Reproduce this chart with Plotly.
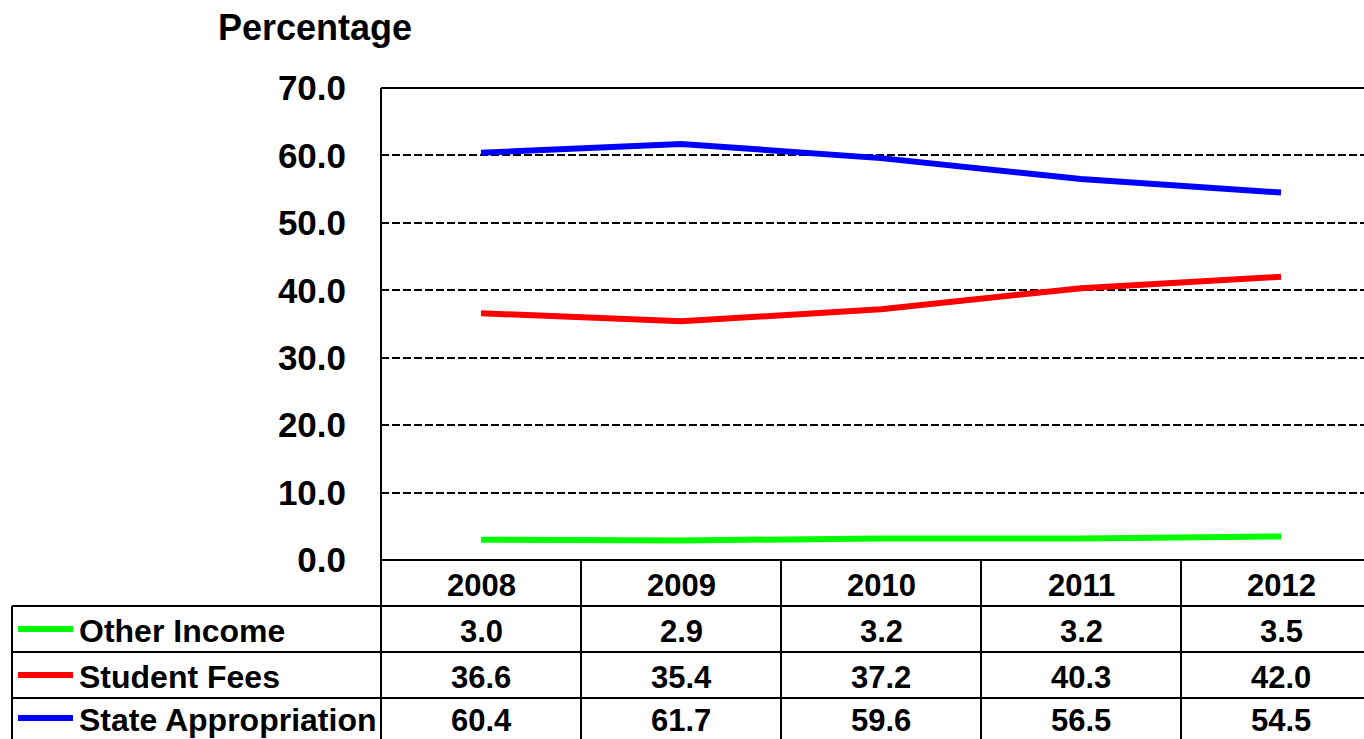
import plotly.graph_objects as go

# Revenue share by source, fiscal years 2008-2012 (percent)
years = ["2008", "2009", "2010", "2011", "2012"]
other_income = [3.0, 2.9, 3.2, 3.2, 3.5]
student_fees = [36.6, 35.4, 37.2, 40.3, 42.0]
state_appropriation = [60.4, 61.7, 59.6, 56.5, 54.5]

series = [
    ("Other Income", other_income, "#00FF00"),
    ("Student Fees", student_fees, "#FF0000"),
    ("State Appropriation", state_appropriation, "#0000FF"),
]

y_ticks = [0, 10, 20, 30, 40, 50, 60, 70]
y_tick_text = [f"{v:.1f}" for v in y_ticks]

W, H = 1364, 739
L, T, B = 381, 88, 560          # plot-area edges in pixels
PW, PH = W - L, B - T
COL_W = 200                      # pixel width of one year column

FONT = "Liberation Sans, Arial, sans-serif"


def px_x(p):
    return (p - L) / PW


def px_y(p):
    return (B - p) / PH


x_idx = list(range(len(years)))

fig = go.Figure()
for name, vals, color in series:
    fig.add_trace(go.Scatter(
        x=x_idx, y=vals, mode="lines", name=name,
        line=dict(color=color, width=6), showlegend=False,
    ))

shapes = []
line_style = dict(color="black", width=2)

# plot frame: left, top, bottom (axis line)
shapes.append(dict(type="line", xref="paper", yref="paper",
                   x0=0, x1=0, y0=1, y1=px_y(H + 2), line=line_style))
shapes.append(dict(type="line", xref="paper", yref="paper",
                   x0=0, x1=1, y0=1, y1=1, line=line_style))
shapes.append(dict(type="line", xref="paper", yref="paper",
                   x0=0, x1=1, y0=0, y1=0, line=line_style))

# data table grid below the plot
row_edges = [606, 652, 698]
for r in row_edges:
    shapes.append(dict(type="line", xref="paper", yref="paper",
                       x0=px_x(12), x1=1, y0=px_y(r), y1=px_y(r),
                       line=line_style))
shapes.append(dict(type="line", xref="paper", yref="paper",
                   x0=px_x(12), x1=px_x(12), y0=px_y(606), y1=px_y(H + 2),
                   line=line_style))
for i in range(1, len(years)):
    xp = L + i * COL_W
    shapes.append(dict(type="line", xref="paper", yref="paper",
                       x0=px_x(xp), x1=px_x(xp), y0=0, y1=px_y(H + 2),
                       line=line_style))

TABLE_SIZE = 31

annotations = []
# header row: years
for i, yr in enumerate(years):
    annotations.append(dict(
        x=i, y=px_y(585), xref="x", yref="paper", text=f"<b>{yr}</b>",
        showarrow=False, xanchor="center", yanchor="middle",
        font=dict(family=FONT, size=TABLE_SIZE, color="black")))

row_centers = [631, 677, 720]
for (name, vals, color), rc in zip(series, row_centers):
    # legend key line
    shapes.append(dict(type="line", xref="paper", yref="paper",
                       x0=px_x(18), x1=px_x(73), y0=px_y(rc - 2), y1=px_y(rc - 2),
                       line=dict(color=color, width=6)))
    annotations.append(dict(
        x=px_x(77), y=px_y(rc), xref="paper", yref="paper",
        text=f"<b>{name}</b>", showarrow=False,
        xanchor="left", yanchor="middle",
        font=dict(family=FONT, size=TABLE_SIZE + 1, color="black")))
    for i, v in enumerate(vals):
        annotations.append(dict(
            x=i, y=px_y(rc), xref="x", yref="paper", text=f"<b>{v:.1f}</b>",
            showarrow=False, xanchor="center", yanchor="middle",
            font=dict(family=FONT, size=TABLE_SIZE, color="black")))

# axis title
annotations.append(dict(
    x=px_x(216), y=px_y(27), xref="paper", yref="paper",
    text="<b>Percentage</b>", showarrow=False,
    xanchor="left", yanchor="middle",
    font=dict(family=FONT, size=36, color="black")))

fig.update_layout(
    width=W, height=H,
    margin=dict(l=L, r=0, t=T, b=H - B, pad=0),
    paper_bgcolor="white", plot_bgcolor="white",
    xaxis=dict(range=[-0.5, -0.5 + PW / COL_W], showticklabels=False,
               showgrid=False, zeroline=False, showline=False, ticks=""),
    yaxis=dict(range=[0, 70], tickvals=y_ticks, ticktext=[f"<b>{t}</b>" for t in y_tick_text],
               tickfont=dict(family=FONT, size=35, color="black"),
               showgrid=True, gridcolor="black", gridwidth=1.5, griddash="8px,3px",
               zeroline=False, showline=False, ticks="", ticklabelstandoff=34),
    shapes=shapes, annotations=annotations,
)

fig.write_html("out.html")
